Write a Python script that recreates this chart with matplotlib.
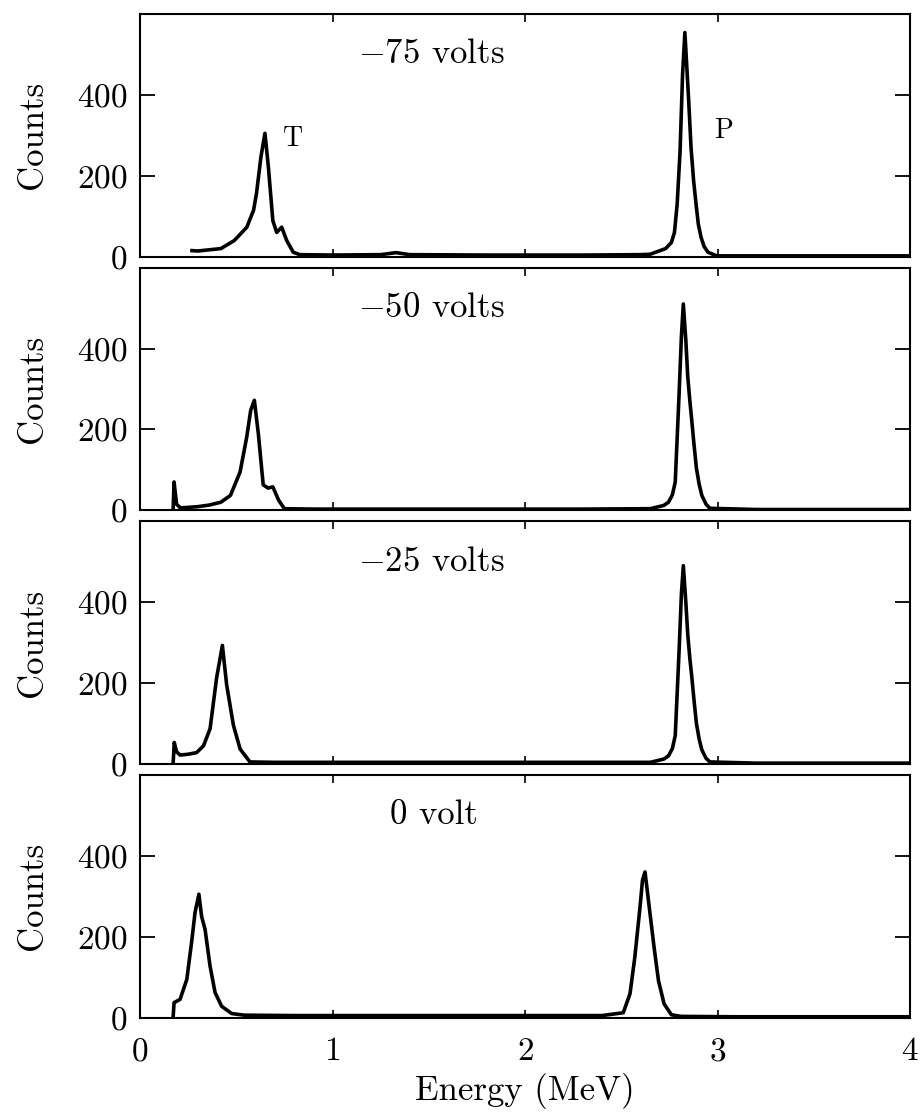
import matplotlib
matplotlib.use("Agg")
import matplotlib.pyplot as plt

plt.rcParams['font.family'] = ['cmr10', 'DejaVu Serif']
plt.rcParams['mathtext.fontset'] = 'cm'
plt.rcParams['axes.unicode_minus'] = False
plt.rcParams['axes.formatter.use_mathtext'] = True

# spectra: energy (MeV) and counts
e75 = [0.27, 0.30, 0.42, 0.49, 0.555, 0.59, 0.605, 0.628, 0.649, 0.667, 0.69, 0.71, 0.736,
       0.762, 0.796, 0.83, 1.0, 1.25, 1.33, 1.4, 1.8, 2.3, 2.6, 2.65, 2.73, 2.76, 2.776,
       2.79, 2.805, 2.818, 2.83, 2.84, 2.85, 2.862, 2.875, 2.888, 2.90, 2.914, 2.93, 2.95,
       2.995, 3.3, 3.7, 4.0]
c75 = [15, 14, 20, 40, 73, 115, 156, 246, 305, 221, 89, 60, 73,
       40, 11, 5, 4, 5, 10, 5, 4, 4, 5, 6, 20, 35, 60,
       130, 260, 450, 554, 470, 384, 270, 190, 130, 80, 48, 25, 11,
       2, 2, 2, 2]

e50 = [0.172, 0.177, 0.19, 0.21, 0.30, 0.36, 0.42, 0.47, 0.52, 0.554, 0.575, 0.594, 0.615,
       0.64, 0.665, 0.69, 0.72, 0.75, 0.9, 1.3, 1.8, 2.3, 2.65, 2.72, 2.745, 2.765, 2.78,
       2.80, 2.812, 2.822, 2.835, 2.845, 2.856, 2.866, 2.878, 2.89, 2.904, 2.918, 2.94, 2.96,
       3.2, 3.6, 4.0]
c50 = [0, 70, 15, 6, 9, 13, 20, 37, 95, 180, 247, 272, 188,
       63, 55, 58, 25, 4, 3, 3, 3, 3, 4, 12, 20, 38, 70,
       288, 430, 510, 420, 330, 270, 221, 160, 104, 65, 37, 15, 5,
       2, 2, 2]

e25 = [0.172, 0.178, 0.19, 0.208, 0.25, 0.294, 0.33, 0.364, 0.398, 0.428, 0.45, 0.485,
       0.52, 0.571, 0.7, 1.2, 1.8, 2.3, 2.65, 2.72, 2.745, 2.765, 2.78, 2.80, 2.812, 2.822,
       2.835, 2.845, 2.856, 2.866, 2.878, 2.89, 2.904, 2.918, 2.94, 2.96, 3.2, 3.6, 4.0]
c25 = [0, 53, 30, 22, 24, 28, 45, 87, 213, 293, 196, 96,
       37, 5, 4, 4, 4, 4, 4, 12, 20, 38, 70, 280, 420, 490,
       400, 320, 260, 215, 155, 100, 62, 35, 14, 5, 2, 2, 2]

e0 = [0.172, 0.177, 0.208, 0.243, 0.268, 0.286, 0.306, 0.32, 0.338, 0.364, 0.39, 0.424,
      0.476, 0.54, 0.8, 1.2, 1.6, 2.0, 2.4, 2.51, 2.545, 2.57, 2.597, 2.61, 2.623, 2.645,
      2.67, 2.693, 2.722, 2.76, 2.81, 3.1, 3.5, 4.0]
c0 = [0, 37, 45, 94, 186, 260, 305, 250, 218, 127, 62, 28,
      10, 6, 5, 5, 5, 5, 5, 12, 59, 149, 273, 340, 360, 273,
      174, 91, 34, 7, 3, 2, 2, 2]

energies = [e75, e50, e25, e0]
counts = [c75, c50, c25, c0]
volts = [r'$-$75 volts', r'$-$50 volts', r'$-$25 volts', '0 volt']
volt_x = [1.13, 1.13, 1.13, 1.30]

fig, axes = plt.subplots(4, 1, figsize=(9.24, 11.17), dpi=100, sharex=True)
fig.subplots_adjust(left=0.1515, right=0.985, top=0.9875, bottom=0.089, hspace=0.045)

for i, ax in enumerate(axes):
    ax.plot(energies[i], counts[i], color='black', lw=2.6, solid_joinstyle='round')
    ax.set_xlim(0, 4)
    ax.set_ylim(0, 600)
    ax.set_yticks([0, 200, 400])
    ax.set_xticks([0, 1, 2, 3, 4])
    ax.tick_params(axis='y', direction='in', length=11, width=1.3, right=True,
                   labelsize=24, pad=9)
    ax.tick_params(axis='x', direction='in', length=6, width=1.2, top=True,
                   labelsize=24, pad=14)
    for s in ax.spines.values():
        s.set_linewidth(1.5)
    ax.set_ylabel('Counts', fontsize=25, labelpad=20)
    ax.text(volt_x[i], 500, volts[i], fontsize=25, ha='left', va='center')

axes[0].text(0.74, 292, 'T', fontsize=20, ha='left', va='center')
axes[0].text(2.98, 312, 'P', fontsize=20, ha='left', va='center')

axes[-1].set_xlabel('Energy (MeV)', fontsize=25, labelpad=5)

fig.savefig('out.png', dpi=100)
